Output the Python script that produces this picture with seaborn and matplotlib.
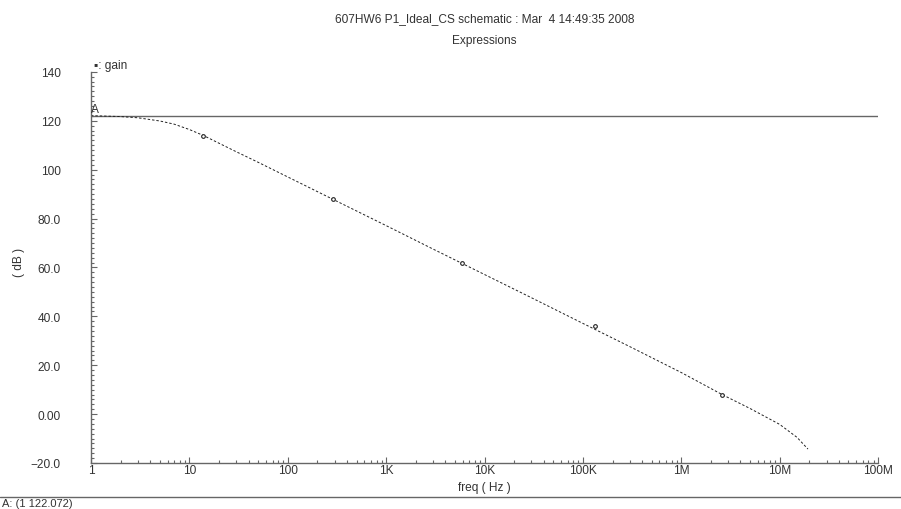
import numpy as np
import pandas as pd
import matplotlib
matplotlib.use("Agg")
import matplotlib.pyplot as plt
import seaborn as sns
from matplotlib.ticker import FixedLocator, NullFormatter

# ---- data ----
freq_hz = [1, 2, 3, 5, 7, 10, 14, 20, 30, 50, 100, 300, 1e3, 3e3, 1e4, 3e4,
           1e5, 3e5, 1e6, 2.6e6, 5e6, 1e7, 1.5e7, 1.94e7]
gain_db = [122.07, 121.7, 121.2, 119.9, 118.6, 116.4, 113.9, 110.8, 107.3, 103.0,
           97.0, 87.5, 77.1, 67.5, 57.1, 47.6, 37.1, 27.6, 17.0, 8.0, 2.3, -4.2,
           -9.5, -14.3]
marker_freq = [13.8, 288, 5.9e3, 1.32e5, 2.57e6]
marker_db = [113.9, 88.0, 62.0, 36.0, 8.0]
marker_a_db = 122.072
xtick_vals = [1, 10, 100, 1e3, 1e4, 1e5, 1e6, 1e7, 1e8]
xtick_labels = ["1", "10", "100", "1K", "10K", "100K", "1M", "10M", "100M"]
ytick_vals = [-20, 0, 20, 40, 60, 80, 100, 120, 140]
ytick_labels = ["\u221220.0", "0.00", "20.0", "40.0", "60.0", "80.0", "100", "120", "140"]

curve = pd.DataFrame({"freq": freq_hz, "gain": gain_db})
marks = pd.DataFrame({"freq": marker_freq, "gain": marker_db})

sns.set_style("white")
plt.rcParams["font.family"] = ["Liberation Sans", "DejaVu Sans"]
TXT = "#333333"
AX = "#666666"
FS = 8.6

fig = plt.figure(figsize=(9.01, 5.10), dpi=100)
ax = fig.add_axes([0.101, 0.0902, 0.8735, 0.767])

sns.lineplot(data=curve, x="freq", y="gain", ax=ax, color="#222222",
             linewidth=0.7, linestyle=(0, (2.5, 2)))
sns.scatterplot(data=marks, x="freq", y="gain", ax=ax, color="white",
                s=7, marker="o", edgecolor="#222222", linewidth=0.8, zorder=3)
ax.axhline(marker_a_db, color=AX, linewidth=1.0, zorder=1)

ax.set_xscale("log")
ax.set_xlim(1, 1e8)
ax.set_ylim(-20, 140)

ax.xaxis.set_major_locator(FixedLocator(xtick_vals))
ax.set_xticklabels(xtick_labels)
minors = [m * 10 ** d for d in range(0, 8) for m in range(2, 10)]
ax.xaxis.set_minor_locator(FixedLocator(minors))
ax.xaxis.set_minor_formatter(NullFormatter())
ax.yaxis.set_major_locator(FixedLocator(ytick_vals))
ax.set_yticklabels(ytick_labels)
ax.yaxis.set_minor_locator(FixedLocator(list(range(-20, 141, 2))))

ax.tick_params(axis="both", which="major", direction="in", length=4,
               width=0.8, color=AX, labelsize=FS, labelcolor=TXT)
ax.tick_params(axis="both", which="minor", direction="in", length=2.5,
               width=0.8, color=AX)
ax.tick_params(axis="x", which="major", pad=1)
ax.tick_params(axis="y", which="major", pad=22)
ax.tick_params(left=True, bottom=True, which="both")

for s in ["top", "right"]:
    ax.spines[s].set_visible(False)
for s in ["left", "bottom"]:
    ax.spines[s].set_color(AX)
    ax.spines[s].set_linewidth(1.0)

ax.set_xlabel("freq ( Hz )", fontsize=FS, color=TXT)
ax.xaxis.set_label_coords(0.5, -0.045)
ax.set_ylabel("( dB )", fontsize=FS, color=TXT, va="center")
ax.yaxis.set_label_coords(-0.0915, 0.514)

ax.text(1.0, 122.3, "A", fontsize=FS, color=TXT, ha="left", va="bottom")
ax.text(0.004, 1.003, "\u25aa: gain", transform=ax.transAxes, fontsize=FS,
        color=TXT, ha="left", va="bottom")

fig.text(0.538, 0.962, "607HW6 P1_Ideal_CS schematic : Mar  4 14:49:35 2008",
         fontsize=FS, color=TXT, ha="center", va="center")
fig.text(0.538, 0.919, "Expressions", fontsize=FS, color=TXT,
         ha="center", va="center")

fig.add_artist(plt.Line2D([0, 1], [0.0245, 0.0245], transform=fig.transFigure,
                          color=AX, linewidth=1.0))
fig.text(0.002, 0.011, "A: (1 122.072)", fontsize=8, color=TXT,
         ha="left", va="center")

fig.savefig("out.png", dpi=100, facecolor="white")
